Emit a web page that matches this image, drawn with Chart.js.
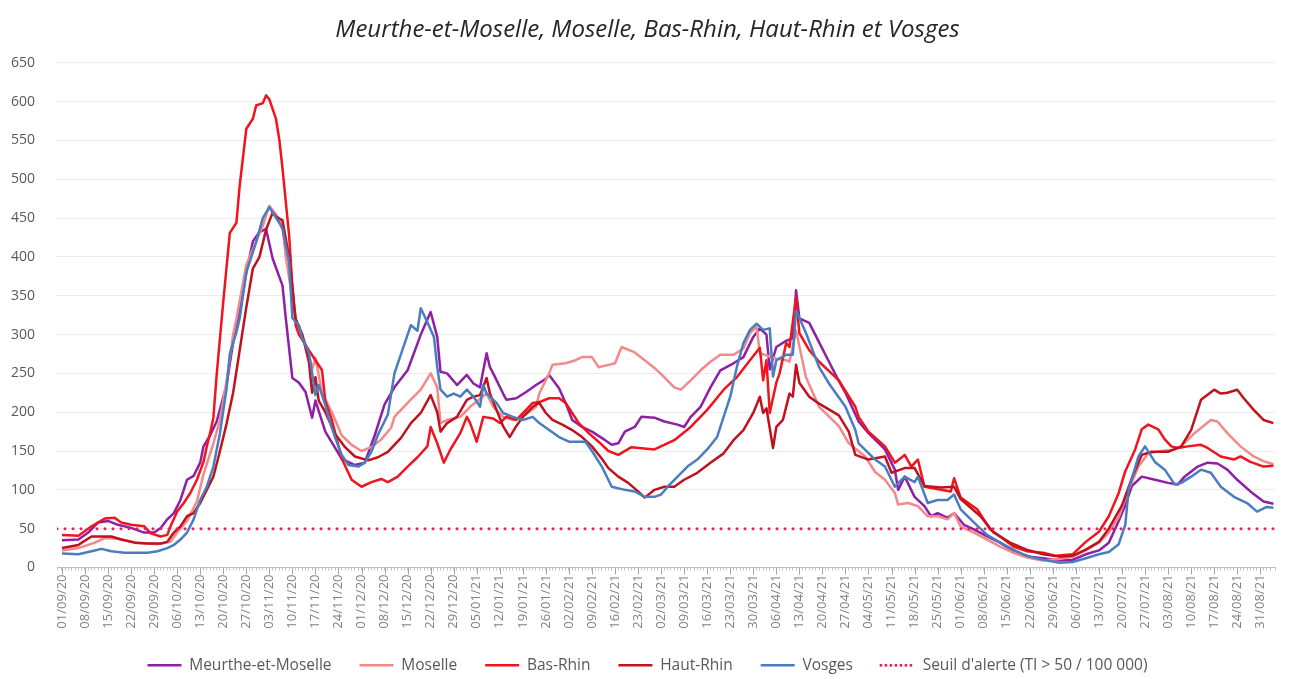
<!DOCTYPE html>
<html lang="fr">
<head>
<meta charset="utf-8">
<title>Taux d'incidence - Meurthe-et-Moselle, Moselle, Bas-Rhin, Haut-Rhin et Vosges</title>
<script src="https://cdn.jsdelivr.net/npm/chart.js@4.4.1/dist/chart.umd.min.js"></script>
<style>
  html, body { margin: 0; padding: 0; background: #ffffff; }
  #wrap { width: 1295px; height: 679px; }
</style>
</head>
<body>
<div id="wrap"><canvas id="chart" width="1295" height="679"></canvas></div>
<script>
"use strict";

// Day 0 = 01/09/20. Points are [day, incidence].
const weekLabels = [
  "01/09/20", "08/09/20", "15/09/20", "22/09/20", "29/09/20", "06/10/20", "13/10/20",
  "20/10/20", "27/10/20", "03/11/20", "10/11/20", "17/11/20", "24/11/20", "01/12/20",
  "08/12/20", "15/12/20", "22/12/20", "29/12/20", "05/01/21", "12/01/21", "19/01/21",
  "26/01/21", "02/02/21", "09/02/21", "16/02/21", "23/02/21", "02/03/21", "09/03/21",
  "16/03/21", "23/03/21", "30/03/21", "06/04/21", "13/04/21", "20/04/21", "27/04/21",
  "04/05/21", "11/05/21", "18/05/21", "25/05/21", "01/06/21", "08/06/21", "15/06/21",
  "22/06/21", "29/06/21", "06/07/21", "13/07/21", "20/07/21", "27/07/21", "03/08/21",
  "10/08/21", "17/08/21", "24/08/21", "31/08/21",
];

const yTicks = [0, 50, 100, 150, 200, 250, 300, 350, 400, 450, 500, 550, 600, 650];

const meurtheEtMoselle = [
  [0,35],[5,36],[8,45],[11,58],[14,60],[17,55],[21,51],[25,45],[28,45],[30,51],[32,62],[34,70],
  [36,87],[38,113],[40,118],[42,135],[43,156],[45,170],[47,188],[50,235],[52,290],[54,330],
  [56,380],[58,420],[60,432],[62,436],[64,398],[67,363],[68,321],[70,244],[72,238],[74,226],
  [76,193],[77,215],[80,175],[85,140],[89,132],[92,135],[95,170],[98,210],[101,232],[105,254],
  [109,300],[112,329],[114,297],[115,252],[117,250],[120,235],[123,248],[125,237],[127,232],
  [129,276],[130,258],[131,250],[134,224],[135,216],[138,218],[141,226],[144,235],[147,243],
  [148,248],[151,231],[153,212],[155,190],[158,181],[161,175],[165,164],[167,158],[169,160],
  [171,175],[174,181],[176,194],[180,193],[183,188],[187,184],[189,181],[191,194],[194,207],
  [197,232],[200,254],[204,263],[207,271],[210,297],[212,308],[214,300],[215,255],[217,284],
  [220,292],[222,295],[223,357],[224,321],[227,315],[230,290],[233,265],[236,240],[238,225],
  [242,188],[245,173],[250,152],[253,126],[254,100],[256,117],[259,91],[262,79],[264,66],
  [266,70],[269,64],[271,70],[274,55],[277,49],[281,40],[285,32],[289,21],[294,14],[298,12],
  [303,9],[307,10],[311,17],[315,22],[318,32],[321,60],[323,80],[325,105],[328,117],[332,113],
  [336,109],[339,107],[341,117],[345,130],[348,135],[351,134],[354,126],[357,113],[361,98],
  [365,85],[368,82],
];

const moselle = [
  [0,22],[5,25],[10,32],[13,38],[17,37],[23,32],[29,30],[33,33],[35,45],[38,60],[41,85],
  [43,120],[46,160],[48,190],[50,240],[52,300],[53,320],[56,390],[59,420],[61,440],[63,466],
  [65,455],[67,440],[68,400],[71,320],[73,300],[75,275],[76,255],[77,270],[79,225],[82,200],
  [85,170],[88,158],[91,150],[94,155],[97,165],[100,180],[101,194],[105,212],[109,229],
  [112,250],[114,232],[115,186],[117,190],[121,194],[124,207],[129,224],[131,207],[134,194],
  [137,190],[140,194],[144,207],[145,224],[148,250],[149,261],[153,263],[156,267],[158,271],
  [161,271],[163,258],[166,261],[168,263],[170,284],[174,277],[177,267],[180,257],[183,245],
  [186,232],[188,229],[191,241],[194,254],[197,265],[200,274],[204,274],[207,282],[209,302],
  [211,310],[212,276],[217,269],[220,267],[221,265],[223,305],[226,245],[230,207],[236,182],
  [239,160],[244,143],[247,123],[250,113],[253,96],[254,81],[257,83],[260,79],[263,66],
  [266,66],[269,62],[271,70],[273,53],[277,45],[281,36],[285,27],[289,19],[293,13],[298,9],
  [303,11],[307,14],[311,22],[315,32],[318,45],[321,65],[324,100],[327,130],[330,147],
  [334,150],[338,152],[340,156],[344,173],[349,190],[351,188],[354,173],[358,156],[362,143],
  [365,137],[368,133],
];

const basRhin = [
  [0,42],[5,41],[9,53],[13,63],[16,64],[18,58],[21,55],[25,53],[27,44],[30,40],[32,42],[33,53],
  [35,72],[37,83],[39,96],[41,113],[43,136],[44,156],[45,173],[46,193],[47,248],[49,342],
  [51,431],[53,444],[54,492],[56,565],[58,578],[59,595],[61,598],[62,608],[63,603],[65,578],
  [66,552],[67,514],[69,428],[70,363],[71,312],[72,300],[75,280],[79,254],[80,215],[82,190],
  [85,140],[88,113],[91,104],[94,110],[97,114],[99,110],[102,117],[105,130],[108,142],
  [111,156],[112,181],[114,160],[116,135],[118,152],[121,173],[123,194],[124,186],[126,162],
  [128,194],[131,192],[133,186],[135,194],[138,190],[141,203],[143,212],[145,213],[148,218],
  [151,218],[153,212],[155,199],[157,186],[160,173],[163,162],[166,150],[169,145],[173,155],
  [180,152],[186,164],[191,181],[196,203],[201,229],[205,245],[209,267],[212,283],[213,241],
  [214,267],[215,199],[217,238],[218,250],[220,289],[221,284],[223,348],[224,302],[227,280],
  [230,265],[236,241],[241,207],[242,194],[245,175],[250,156],[253,135],[256,145],[258,130],
  [260,139],[262,104],[267,100],[270,98],[271,115],[273,90],[278,75],[282,49],[285,40],
  [289,27],[293,21],[298,19],[302,15],[307,17],[311,33],[315,46],[318,66],[321,96],[323,124],
  [326,152],[328,178],[330,184],[333,178],[335,165],[337,156],[339,154],[342,156],[346,158],
  [348,154],[352,143],[356,139],[358,143],[361,136],[365,130],[368,131],
];

const hautRhin = [
  [0,25],[5,29],[6,32],[9,40],[12,40],[15,40],[18,36],[22,32],[26,31],[30,31],[32,33],[34,45],
  [36,53],[38,66],[40,70],[42,83],[44,100],[46,117],[48,150],[50,185],[52,225],[54,280],
  [56,335],[58,385],[60,400],[62,435],[64,457],[65,452],[67,447],[69,400],[71,320],[73,300],
  [75,265],[76,225],[77,245],[78,215],[80,200],[83,172],[86,155],[89,143],[93,138],[96,142],
  [99,149],[103,167],[106,186],[109,199],[112,222],[114,200],[115,175],[117,186],[120,194],
  [123,216],[125,220],[127,222],[129,244],[130,224],[132,203],[134,182],[136,168],[138,182],
  [140,194],[143,207],[145,212],[147,199],[149,190],[152,184],[155,177],[158,168],[161,156],
  [164,140],[166,128],[169,117],[172,109],[175,98],[177,90],[180,100],[183,104],[186,104],
  [189,113],[193,122],[197,135],[201,147],[204,164],[207,177],[210,199],[212,220],[213,199],
  [214,205],[216,154],[217,181],[219,190],[221,224],[222,220],[223,261],[224,238],[227,220],
  [230,211],[236,196],[239,175],[241,145],[245,139],[250,143],[252,122],[256,128],[259,128],
  [262,105],[267,103],[271,104],[273,88],[279,66],[283,45],[288,32],[293,23],[298,17],
  [303,14],[307,15],[311,23],[315,33],[318,50],[322,80],[325,115],[328,145],[331,149],
  [336,149],[340,156],[343,177],[346,216],[350,229],[352,224],[354,225],[357,229],[359,218],
  [362,203],[365,190],[368,186],
];

const vosges = [
  [0,18],[5,17],[9,21],[12,24],[15,21],[19,19],[23,19],[26,19],[29,21],[32,25],[34,29],[36,36],
  [38,45],[40,62],[42,87],[44,104],[46,130],[48,173],[50,230],[51,275],[53,303],[54,321],
  [56,380],[59,419],[61,450],[63,464],[64,457],[66,444],[67,436],[69,393],[70,321],[72,312],
  [73,295],[75,277],[76,250],[77,222],[78,235],[80,209],[81,193],[83,167],[85,145],[87,132],
  [90,130],[92,135],[94,149],[96,171],[99,197],[101,250],[105,300],[106,312],[108,305],
  [109,334],[111,316],[113,297],[114,258],[115,229],[117,220],[119,224],[121,220],[123,229],
  [125,220],[127,207],[128,235],[129,224],[132,212],[134,199],[137,194],[140,190],[143,194],
  [145,186],[148,177],[151,168],[154,162],[159,162],[161,150],[164,130],[167,104],[171,100],
  [174,98],[177,91],[180,91],[182,94],[184,104],[187,117],[190,130],[193,139],[196,152],
  [199,168],[201,194],[203,220],[205,258],[207,289],[209,306],[211,314],[213,306],[215,308],
  [216,246],[217,267],[220,274],[222,274],[223,331],[226,302],[230,258],[233,237],[238,207],
  [241,177],[242,160],[247,139],[250,130],[253,104],[256,117],[259,110],[260,117],[263,83],
  [266,87],[269,87],[271,94],[273,75],[277,58],[281,42],[285,32],[289,23],[293,15],[298,10],
  [303,6],[307,7],[311,12],[315,17],[318,20],[321,30],[323,55],[324,100],[327,143],[329,156],
  [332,136],[335,126],[338,107],[340,109],[343,117],[346,126],[349,122],[352,104],[356,91],
  [360,83],[363,72],[366,78],[368,77],
];

const ALERT_LEVEL = 50;
const DAY_MIN = -1.5;
const DAY_MAX = 368.6;
const FONT = '"Open Sans", "Noto Sans", sans-serif';

const series = [
  { label: "Meurthe-et-Moselle", color: "#8e1fa6", points: meurtheEtMoselle },
  { label: "Moselle", color: "#f3898b", points: moselle },
  { label: "Bas-Rhin", color: "#f2141c", points: basRhin },
  { label: "Haut-Rhin", color: "#c0121c", points: hautRhin },
  { label: "Vosges", color: "#4a7dc0", points: vosges },
];

function buildDatasets() {
  const datasets = series.map((item, index) => ({
    label: item.label,
    data: item.points.map(([day, value]) => ({ x: day, y: value })),
    borderColor: item.color,
    backgroundColor: item.color,
    borderWidth: 2.5,
    borderJoinStyle: "round",
    pointRadius: 0,
    tension: 0,
    // later series sit on top, as in the spreadsheet
    order: series.length - index + 1,
  }));

  datasets.push({
    label: "Seuil d'alerte (TI > 50 / 100 000)",
    data: [{ x: DAY_MIN, y: ALERT_LEVEL }, { x: DAY_MAX, y: ALERT_LEVEL }],
    borderColor: "#e3215f",
    backgroundColor: "#e3215f",
    borderWidth: 3,
    borderDash: [0, 8],
    legendDash: [0, 5],
    borderCapStyle: "round",
    pointRadius: 0,
    order: 0,
  });
  return datasets;
}

// The default legend takes the point style, so copy the line style back in.
function legendLabels(chart) {
  return Chart.defaults.plugins.legend.labels.generateLabels(chart).map((item) => {
    const dataset = chart.data.datasets[item.datasetIndex];
    return {
      ...item,
      strokeStyle: dataset.borderColor,
      lineWidth: dataset.borderWidth,
      lineDash: dataset.legendDash || [],
      lineCap: dataset.borderCapStyle || "butt",
    };
  });
}

function weekLabel(value) {
  if (!Number.isInteger(value) || value < 0 || value % 7 !== 0) {
    return "";
  }
  return weekLabels[value / 7] || "";
}

// Longer tick marks under each weekly label.
const weekTicks = {
  id: "weekTicks",
  afterDraw(chart) {
    const scale = chart.scales.x;
    const ctx = chart.ctx;
    ctx.save();
    ctx.strokeStyle = "#a6a6a6";
    ctx.lineWidth = 1;
    ctx.beginPath();
    weekLabels.forEach((_label, index) => {
      const px = Math.round(scale.getPixelForValue(index * 7)) + 0.5;
      ctx.moveTo(px, scale.top);
      ctx.lineTo(px, scale.top + 7);
    });
    ctx.stroke();
    ctx.restore();
  },
};

new Chart(document.getElementById("chart"), {
  type: "line",
  data: { datasets: buildDatasets() },
  plugins: [weekTicks],
  options: {
    responsive: false,
    animation: false,
    layout: { padding: { left: 0, right: 0, top: 0, bottom: -4 } },
    plugins: {
      title: {
        display: true,
        text: "Meurthe-et-Moselle, Moselle, Bas-Rhin, Haut-Rhin et Vosges",
        color: "#262626",
        font: { family: FONT, size: 24, style: "italic", weight: "normal" },
        padding: { top: 16, bottom: 18 },
      },
      legend: {
        position: "bottom",
        labels: {
          usePointStyle: true,
          pointStyle: "line",
          pointStyleWidth: 34,
          padding: 28,
          color: "#595959",
          font: { family: FONT, size: 15.5 },
          generateLabels: legendLabels,
          sort: (a, b) => a.datasetIndex - b.datasetIndex,
        },
      },
      tooltip: { enabled: false },
    },
    scales: {
      x: {
        type: "linear",
        min: DAY_MIN,
        max: DAY_MAX,
        afterFit: (scale) => { scale.height = 62; },
        ticks: {
          stepSize: 1,
          maxTicksLimit: 400,
          autoSkip: false,
          minRotation: 90,
          maxRotation: 90,
          padding: 4,
          color: "#808080",
          font: { family: FONT, size: 13 },
          callback: weekLabel,
        },
        grid: {
          drawOnChartArea: false,
          drawTicks: true,
          tickLength: 3,
          color: "#c4c4c4",
        },
        border: { color: "#bfbfbf" },
      },
      y: {
        min: 0,
        max: 650,
        afterFit: (scale) => { scale.width = 57; },
        afterBuildTicks: (scale) => { scale.ticks = yTicks.map((value) => ({ value })); },
        ticks: {
          padding: 22,
          color: "#595959",
          font: { family: FONT, size: 14 },
        },
        grid: { color: "#ececec", drawTicks: false },
        border: { display: false },
      },
    },
  },
});
</script>
</body>
</html>
